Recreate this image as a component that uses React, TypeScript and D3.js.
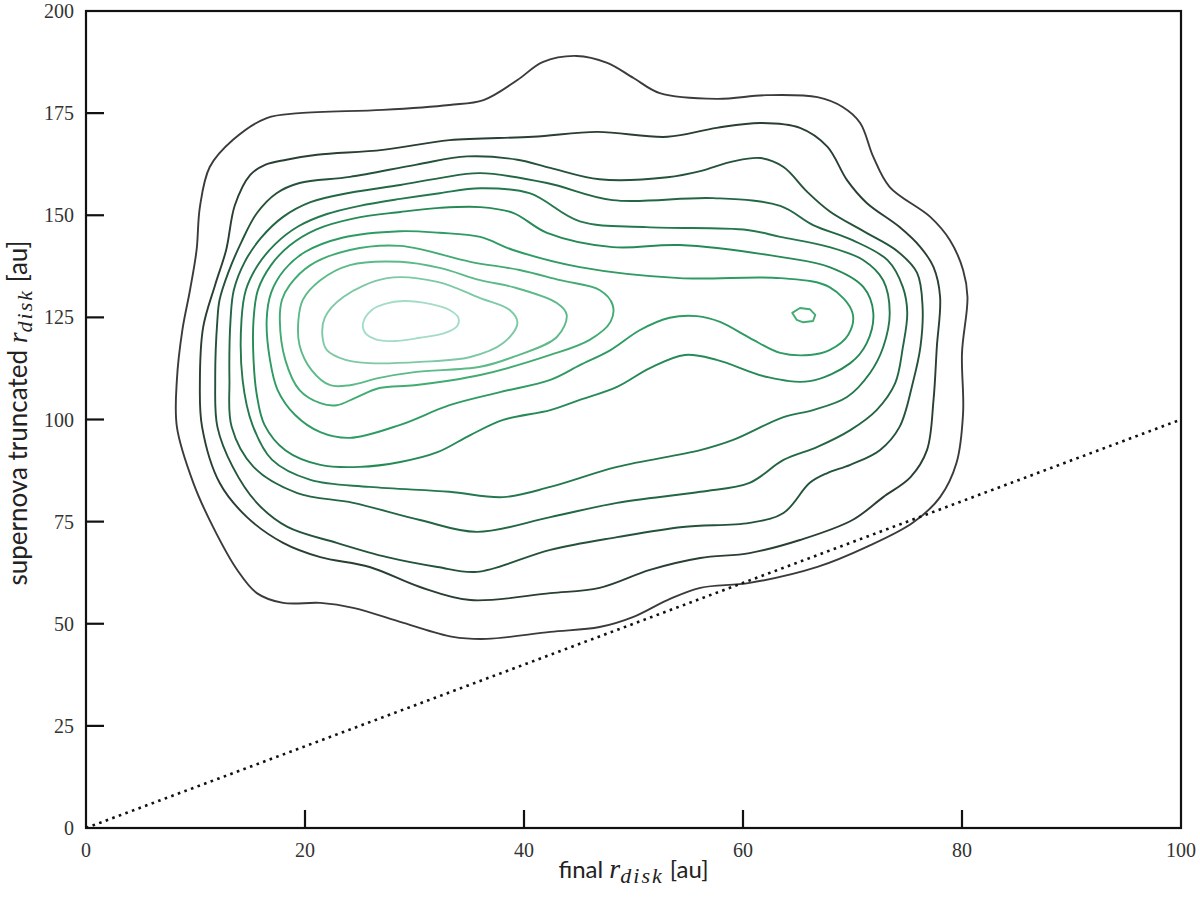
import React from "react";
import * as d3 from "d3";

// ---- data (au) ----
const xTicks = [0, 20, 40, 60, 80, 100];
const yTicks = [0, 25, 50, 75, 100, 125, 150, 175, 200];
const diagonal = [[0, 0], [100, 100]];

const contour1 = [[8.3,98.2],[8.3,109.7],[8.8,121.9],[9.5,131.7],[10.1,141.5],[10.4,152.0],[11.3,161.8],[13.4,168.4],[16.5,173.8],[19.5,175.0],[27.1,175.8],[33.2,177.0],[36.3,178.2],[39.4,183.1],[41.7,187.5],[44.8,189.0],[47.6,187.3],[50.0,183.6],[52.4,179.9],[57.6,178.5],[62.2,179.4],[66.8,178.9],[69.1,176.5],[70.7,172.6],[71.9,164.3],[73.4,156.9],[77.1,149.6],[78.9,143.9],[80.1,136.6],[80.5,130.0],[80.0,116.3],[80.1,101.6],[79.5,89.4],[78.0,81.0],[75.5,74.7],[71.3,68.8],[66.8,63.9],[60.6,60.0],[56.1,58.8],[53.1,55.8],[50.0,51.7],[46.9,49.2],[42.4,48.0],[36.6,46.3],[33.5,46.8],[29.0,50.2],[24.4,53.9],[21.4,55.1],[18.0,55.1],[15.6,57.5],[13.8,63.2],[11.6,73.7],[9.8,84.5]];
const contour2 = [[10.6,98.2],[10.4,108.9],[10.7,122.6],[11.8,133.0],[12.8,141.5],[13.6,152.5],[15.0,159.9],[16.4,162.4],[18.3,163.6],[21.1,164.8],[27.1,166.0],[33.2,168.4],[40.8,169.2],[46.7,170.4],[53.1,169.2],[57.6,171.4],[61.6,172.6],[65.2,171.4],[67.7,166.8],[69.5,158.6],[71.3,153.0],[74.3,147.1],[76.2,142.2],[77.4,137.3],[78.0,130.0],[77.7,117.7],[77.4,104.8],[76.8,92.5],[75.3,85.9],[72.8,81.0],[70.0,75.4],[65.2,70.5],[60.6,67.3],[56.1,66.1],[51.5,63.2],[46.9,58.8],[42.4,57.5],[35.1,55.8],[30.5,59.0],[25.9,63.9],[21.4,66.3],[18.0,69.8],[14.7,76.1],[12.2,84.5]];
const contour3 = [[12.0,124.4],[12.2,129.3],[13.0,136.0],[14.2,143.5],[15.6,150.5],[17.4,155.4],[19.5,157.9],[24.1,159.4],[30.2,162.4],[34.8,164.4],[39.4,163.6],[42.4,161.6],[46.9,158.8],[53.1,159.3],[56.1,160.8],[59.1,163.2],[61.6,164.0],[63.7,161.8],[65.8,155.9],[67.9,151.0],[71.0,146.1],[74.1,141.2],[75.9,135.9],[76.4,127.5],[76.2,117.7],[75.5,108.9],[74.3,98.2],[72.5,92.5],[69.8,88.9],[67.7,86.9],[66.1,84.5],[63.7,77.1],[60.6,74.7],[54.5,73.7],[48.5,71.2],[42.4,68.1],[35.7,62.7],[32.1,63.9],[27.5,66.3],[22.9,69.8],[18.4,73.7],[15.6,79.6],[13.4,88.4],[12.0,98.2],[11.8,109.7]];
const contour4 = [[13.2,124.4],[13.5,131.7],[14.5,138.6],[16.0,144.5],[18.0,149.6],[20.5,153.2],[24.1,155.5],[28.7,157.4],[32.3,159.1],[36.0,160.3],[42.1,157.9],[48.1,153.7],[57.3,154.2],[63.4,152.3],[66.4,147.6],[70.0,143.9],[73.2,139.0],[74.6,132.4],[75.0,126.1],[74.6,117.7],[73.9,108.9],[72.2,102.3],[69.8,97.4],[66.8,93.3],[63.7,90.1],[60.6,84.5],[56.1,82.3],[48.5,79.6],[42.4,76.1],[35.7,72.5],[30.5,75.4],[24.4,79.6],[19.3,82.0],[15.3,88.4],[13.3,98.2],[13.1,109.7]];
const contour5 = [[14.2,124.4],[14.6,131.7],[15.7,137.8],[17.3,143.0],[19.4,147.3],[22.0,150.3],[25.0,152.3],[28.7,154.0],[32.3,155.4],[36.0,156.6],[40.5,155.4],[45.1,148.5],[51.2,147.1],[60.4,146.4],[63.4,144.7],[67.9,142.2],[71.0,139.0],[72.8,134.1],[73.4,126.1],[72.8,117.7],[71.6,111.4],[69.5,105.5],[66.4,102.3],[63.7,100.6],[59.1,95.0],[56.1,92.5],[48.5,88.4],[42.4,83.5],[38.1,81.0],[33.2,82.3],[25.9,83.5],[20.5,85.2],[17.0,90.1],[15.2,98.7],[14.3,109.7]];
const contour6 = [[15.3,124.4],[15.7,131.7],[16.9,137.8],[18.6,142.6],[21.0,146.5],[24.6,149.3],[28.7,150.8],[32.3,151.8],[36.0,152.0],[39.0,150.6],[42.1,145.7],[48.1,142.2],[54.2,142.7],[63.4,139.8],[67.9,137.3],[71.0,132.4],[71.9,126.1],[71.3,118.7],[69.8,113.8],[66.1,109.4],[62.2,110.4],[57.6,114.6],[54.7,115.8],[51.5,112.6],[48.5,108.0],[45.1,104.8],[42.4,102.3],[38.1,99.9],[35.1,96.2],[32.1,92.0],[28.7,89.6],[25.0,88.4],[21.4,88.9],[18.2,92.5],[16.3,98.7],[15.6,106.0],[15.3,114.6]];
const contour7 = [[16.5,124.4],[16.9,131.0],[18.1,136.6],[20.0,141.0],[23.4,144.5],[28.7,146.1],[32.3,145.7],[36.0,144.7],[39.0,141.5],[45.1,137.3],[54.2,134.6],[63.4,134.6],[67.9,132.4],[70.0,126.1],[69.6,120.7],[67.9,117.0],[66.1,115.8],[63.4,116.3],[60.6,120.0],[57.9,123.9],[55.8,125.3],[53.3,124.9],[50.6,121.9],[47.9,117.0],[45.1,113.3],[42.4,109.7],[37.8,106.7],[33.2,103.5],[28.7,98.7],[24.1,95.5],[21.4,96.9],[19.1,101.1],[17.5,107.2],[16.8,114.6]];
const contour8 = [[17.7,124.4],[18.2,114.6],[19.5,107.2],[21.4,104.0],[22.9,103.5],[24.6,105.3],[26.8,107.7],[30.0,108.4],[36.0,110.9],[42.4,115.8],[46.0,119.5],[47.9,123.9],[48.1,128.0],[46.9,131.7],[43.3,134.1],[39.6,136.6],[35.1,138.6],[28.7,142.5],[24.1,141.5],[20.5,137.8],[18.6,132.9],[17.9,129.3]];
const island8 = [[64.5,126.1],[65.2,127.3],[66.1,127.0],[66.6,125.6],[66.4,124.1],[65.5,123.8],[64.9,124.4]];
const contour9 = [[19.4,124.4],[19.5,118.2],[20.6,112.1],[22.3,108.4],[24.1,108.4],[26.8,110.2],[30.0,111.6],[36.0,112.9],[39.0,115.3],[43.0,120.2],[43.9,125.6],[43.0,128.5],[39.0,132.4],[36.0,134.1],[32.3,137.1],[28.7,138.6],[24.1,137.8],[21.4,134.1],[19.8,129.3]];
const contour10 = [[21.6,120.2],[22.0,117.0],[23.7,114.6],[25.9,113.8],[30.5,114.1],[35.1,115.3],[38.1,118.7],[39.4,123.6],[38.7,126.8],[36.0,129.7],[32.1,133.7],[27.5,134.6],[23.5,130.0],[21.8,124.9]];
const contour11 = [[25.3,123.6],[26.1,126.8],[27.3,128.3],[29.0,129.0],[31.4,128.3],[33.2,126.8],[34.0,124.9],[33.9,122.9],[32.8,121.2],[30.5,120.0],[28.2,119.2],[26.4,119.7],[25.5,121.2]];

const contours = [contour1, contour2, contour3, contour4, contour5, contour6, contour7, contour8, contour9, contour10, contour11];
const levelColors = ["#3b3b3b", "#283f31", "#24533a", "#236643", "#24784d", "#268a56", "#2e9b62", "#42ab72", "#5cba88", "#7dc9a5", "#a4dcc6"];

const W = 1200, H = 899;
const M = { left: 86, right: 1181, top: 11, bottom: 828 };

export default function App() {
  const x = d3.scaleLinear().domain([0, 100]).range([M.left, M.right]);
  const y = d3.scaleLinear().domain([0, 200]).range([M.bottom, M.top]);
  const closed = d3.line<number[]>().x(d => x(d[0])).y(d => y(d[1])).curve(d3.curveCatmullRomClosed.alpha(0.5));
  const poly = d3.line<number[]>().x(d => x(d[0])).y(d => y(d[1])).curve(d3.curveLinearClosed);
  const straight = d3.line<number[]>().x(d => x(d[0])).y(d => y(d[1]));
  const tickLen = 18;
  const serif = "'Liberation Serif', 'DejaVu Serif', serif";
  const sans = "Lato, 'Open Sans', sans-serif";
  const mathR = 28, mathSub = 22;
  return (
    <svg width={W} height={H} style={{ position: "absolute", left: 0, top: 0, background: "#fff" }}>
      <defs>
        <clipPath id="plot"><rect x={M.left} y={M.top} width={M.right - M.left} height={M.bottom - M.top} /></clipPath>
      </defs>
      <g clipPath="url(#plot)">
        {contours.map((c, i) => (
          <path key={i} d={closed(c) || ""} fill="none" stroke={levelColors[i]} strokeWidth={1.9} />
        ))}
        <path d={poly(island8) || ""} fill="none" stroke={levelColors[7]} strokeWidth={1.9} strokeLinejoin="round" />
        <path d={straight(diagonal) || ""} fill="none" stroke="#111" strokeWidth={2.6} strokeDasharray="2.6 4.4" />
      </g>
      <rect x={M.left} y={M.top} width={M.right - M.left} height={M.bottom - M.top} fill="none" stroke="#111" strokeWidth={2.2} />
      {xTicks.map(t => (
        <g key={"x" + t}>
          {t > 0 && t < 100 && <line x1={x(t)} x2={x(t)} y1={M.bottom} y2={M.bottom - tickLen} stroke="#111" strokeWidth={2.2} />}
          <text x={x(t)} y={857} textAnchor="middle" fontFamily={serif} fontSize={20} fill="#333">{t}</text>
        </g>
      ))}
      {yTicks.map(t => (
        <g key={"y" + t}>
          {t > 0 && t < 200 && <line x1={M.left} x2={M.left + tickLen} y1={y(t)} y2={y(t)} stroke="#111" strokeWidth={2.2} />}
          <text x={74} y={y(t) + 7} textAnchor="end" fontFamily={serif} fontSize={20} fill="#333">{t}</text>
        </g>
      ))}
      <text x={(M.left + M.right) / 2} y={878} textAnchor="middle" fontFamily={sans} fontSize={24} fill="#222">
        <tspan>final </tspan>
        <tspan fontFamily={serif} fontStyle="italic" fontSize={mathR}>r</tspan>
        <tspan fontFamily={serif} fontStyle="italic" fontSize={mathSub} letterSpacing={2} dy={5}>disk</tspan>
        <tspan dy={-5}> [au]</tspan>
      </text>
      <text transform={`translate(27, 413) rotate(-90)`} textAnchor="middle" fontFamily={sans} fontSize={26} fill="#222">
        <tspan>supernova truncated </tspan>
        <tspan fontFamily={serif} fontStyle="italic" fontSize={mathR}>r</tspan>
        <tspan fontFamily={serif} fontStyle="italic" fontSize={mathSub} letterSpacing={2} dy={5}>disk</tspan>
        <tspan dy={-5}> [au]</tspan>
      </text>
    </svg>
  );
}
